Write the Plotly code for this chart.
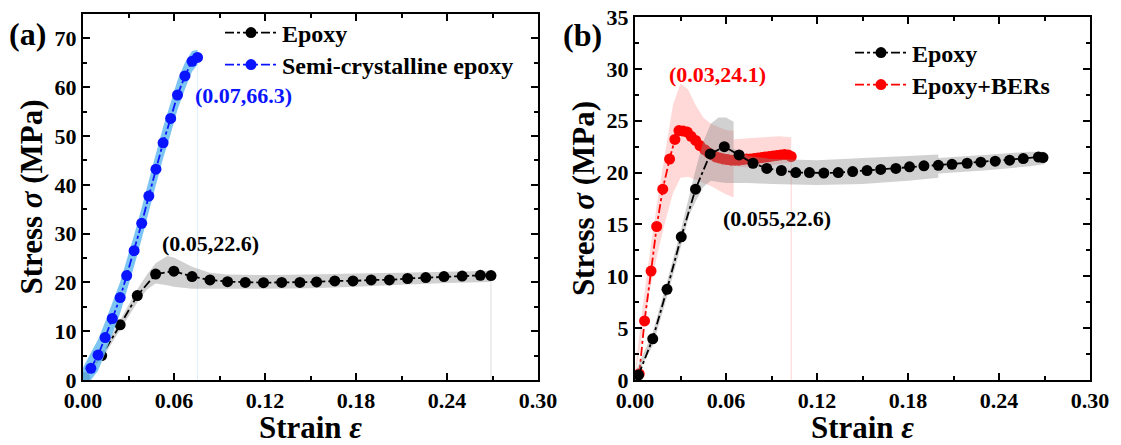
import plotly.graph_objects as go

# page is offset by the browser's 8px body margin; layout positions below are in window pixels
OFF = 8
WIN_W, WIN_H = 1121, 445
W, H = WIN_W - OFF, WIN_H - OFF
FONT = "Liberation Serif"


def px(p):
    return (p - OFF) / W


def py(p):
    return 1 - (p - OFF) / H


# ---------------- Panel (a) data ----------------
a_epoxy_x = [0.001, 0.0123, 0.0245, 0.0358, 0.0479, 0.0599, 0.0719, 0.0837, 0.0953, 0.107, 0.119, 0.131,
             0.143, 0.154, 0.166, 0.178, 0.190, 0.202, 0.214, 0.226, 0.238, 0.250, 0.262, 0.269]
a_epoxy_y = [0.5, 5.0, 11.3, 17.3, 21.7, 22.3, 21.2, 20.5, 20.15, 20.0, 19.95, 20.0,
             20.0, 20.1, 20.3, 20.3, 20.5, 20.5, 20.8, 21.0, 21.2, 21.3, 21.45, 21.4]
a_epoxy_band_x = [0.0, 0.0123, 0.0245, 0.0358, 0.042, 0.0479, 0.0555, 0.0599, 0.0719, 0.0837, 0.0953,
                  0.12, 0.15, 0.18, 0.21, 0.24, 0.269]
a_epoxy_band_hi = [0.8, 5.8, 12.3, 18.6, 21.5, 23.9, 25.4, 25.1, 23.2, 22.0, 21.6,
                   21.5, 21.6, 21.8, 22.0, 22.2, 22.4]
a_epoxy_band_lo = [0.0, 4.2, 10.3, 15.9, 18.5, 19.8, 19.4, 19.1, 18.7, 18.7, 18.7,
                   18.7, 18.8, 19.1, 19.5, 19.9, 20.1]

a_semi_x = [0.0052, 0.0099, 0.0146, 0.0193, 0.0245, 0.0288, 0.0337, 0.0387, 0.0434, 0.0481,
            0.0528, 0.0578, 0.0623, 0.0672, 0.0719, 0.0755]
a_semi_y = [2.4, 5.1, 8.7, 12.6, 16.9, 21.4, 26.5, 32.1, 37.7, 43.2,
            48.6, 53.6, 58.4, 62.3, 65.3, 66.1]
a_semi_band_x = [0.0, 0.0052, 0.0099, 0.0146, 0.0193, 0.0245, 0.0288, 0.0337, 0.0387, 0.0434,
                 0.0481, 0.0528, 0.0578, 0.0623, 0.0672, 0.0719, 0.0755]
a_semi_band_hi = [2.5, 5.6, 8.3, 11.9, 15.8, 20.1, 24.6, 29.7, 35.3, 40.9,
                  46.4, 51.8, 56.8, 61.4, 65.0, 67.4, 67.6]
a_semi_band_lo = [0.0, 0.0, 1.9, 5.5, 9.4, 13.7, 18.2, 23.3, 28.9, 34.5,
                  40.0, 45.4, 50.4, 55.4, 59.6, 63.2, 64.6]

# ---------------- Panel (b) data ----------------
b_epoxy_x = [0.0023, 0.0117, 0.0211, 0.0305, 0.0399, 0.0496, 0.0589, 0.0686, 0.0778, 0.0869, 0.0965,
             0.106, 0.115, 0.1245, 0.134, 0.1435, 0.153, 0.162, 0.172, 0.181, 0.1905, 0.200, 0.209,
             0.219, 0.228, 0.2375, 0.247, 0.256, 0.266, 0.269]
b_epoxy_y = [0.48, 3.97, 8.74, 13.8, 18.4, 21.8, 22.5, 21.7, 20.9, 20.4, 20.2,
             20.0, 20.0, 19.95, 20.0, 20.1, 20.2, 20.3, 20.4, 20.55, 20.65, 20.7, 20.8,
             20.9, 21.0, 21.1, 21.2, 21.35, 21.5, 21.45]
b_epoxy_band_x = [0.0, 0.0117, 0.0211, 0.0305, 0.036, 0.040, 0.045, 0.050, 0.055, 0.060, 0.065, 0.065,
                  0.075, 0.09, 0.12, 0.15, 0.18, 0.20, 0.20, 0.23, 0.26, 0.27]
b_epoxy_band_hi = [0.7, 4.6, 9.5, 14.6, 17.9, 20.3, 23.0, 24.7, 25.3, 25.3, 24.9, 22.3,
                   21.6, 21.3, 21.2, 21.4, 21.6, 21.75, 21.4, 21.7, 22.0, 22.0]
b_epoxy_band_lo = [0.2, 3.3, 8.0, 13.0, 16.0, 17.2, 18.6, 19.2, 19.1, 19.0, 19.0, 19.0,
                   19.0, 18.9, 18.8, 18.9, 19.2, 19.5, 19.9, 20.2, 20.6, 20.8]

b_bers_x = [0.0028, 0.0063, 0.0106, 0.0143, 0.0183, 0.0228, 0.0263, 0.0290, 0.0318, 0.0345, 0.0370, 0.0400,
            0.0428, 0.046, 0.0485, 0.051, 0.0535, 0.056, 0.0585, 0.061, 0.0635, 0.066, 0.0685, 0.071,
            0.0735, 0.076, 0.0785, 0.081, 0.0835, 0.086, 0.0885, 0.091, 0.0935, 0.096, 0.0985, 0.101, 0.103]
b_bers_y = [0.6, 5.7, 10.5, 14.8, 18.4, 21.3, 23.2, 24.05, 24.0, 23.9, 23.5, 23.1,
            22.6, 22.2, 21.9, 21.7, 21.5, 21.4, 21.3, 21.25, 21.2, 21.2, 21.2, 21.25,
            21.3, 21.3, 21.35, 21.4, 21.45, 21.5, 21.55, 21.6, 21.65, 21.7, 21.75, 21.7, 21.55]
b_bers_band_x = [0.0, 0.005, 0.010, 0.015, 0.020, 0.025, 0.030, 0.035, 0.040, 0.045, 0.050, 0.055,
                 0.060, 0.065, 0.065, 0.075, 0.085, 0.095, 0.103]
b_bers_band_hi = [0.8, 7.0, 12.5, 17.5, 22.0, 26.5, 28.6, 28.0, 26.5, 25.3, 24.7, 24.4,
                  24.1, 24.0, 23.2, 23.3, 23.4, 23.5, 23.4]
b_bers_band_lo = [0.2, 4.6, 8.8, 12.3, 15.3, 18.0, 19.5, 19.6, 19.3, 19.0, 18.7, 18.3,
                  17.9, 17.6, 20.6, 20.5, 20.6, 20.8, 21.0]

x_ticks = [0.00, 0.06, 0.12, 0.18, 0.24, 0.30]
x_ticklabels = ["0.00", "0.06", "0.12", "0.18", "0.24", "0.30"]
a_y_ticks = [0, 10, 20, 30, 40, 50, 60, 70]
b_y_ticks = [0, 5, 10, 15, 20, 25, 30, 35]

fig = go.Figure()


def band(xs, hi, lo, color, xa, ya):
    fig.add_trace(go.Scatter(
        x=list(xs) + list(xs)[::-1], y=list(hi) + list(lo)[::-1],
        fill="toself", fillcolor=color, mode="none", hoverinfo="skip",
        showlegend=False, xaxis=xa, yaxis=ya))


def edge(xs, lo, color, xa, ya):
    fig.add_trace(go.Scatter(
        x=[xs[-1], xs[-1]], y=[0, lo[-1]], mode="lines",
        line=dict(color=color, width=1), hoverinfo="skip",
        showlegend=False, xaxis=xa, yaxis=ya))


def series(xs, ys, color, name, xa, ya, legend, msize=11):
    fig.add_trace(go.Scatter(
        x=xs, y=ys, mode="lines+markers", name=name,
        line=dict(color=color, width=1.8, dash="dashdot"),
        marker=dict(color=color, size=msize, symbol="circle"),
        xaxis=xa, yaxis=ya, legend=legend))


# Panel (a)
edge(a_epoxy_band_x, a_epoxy_band_lo, "rgba(200,200,200,0.6)", "x", "y")
edge(a_semi_band_x, a_semi_band_lo, "rgba(170,210,240,0.35)", "x", "y")
band(a_epoxy_band_x, a_epoxy_band_hi, a_epoxy_band_lo, "rgba(150,150,150,0.45)", "x", "y")
series(a_epoxy_x, a_epoxy_y, "black", "Epoxy", "x", "y", "legend")
band(a_semi_band_x, a_semi_band_hi, a_semi_band_lo, "rgba(110,190,240,0.9)", "x", "y")
series(a_semi_x, a_semi_y, "#0A14FF", "Semi-crystalline epoxy", "x", "y", "legend2")

# Panel (b)
edge(b_bers_band_x, b_bers_band_lo, "rgba(255,170,170,0.5)", "x2", "y2")
band(b_bers_band_x, b_bers_band_hi, b_bers_band_lo, "rgba(255,60,60,0.2)", "x2", "y2")
series(b_bers_x, b_bers_y, "#FF0000", "Epoxy+BERs", "x2", "y2", "legend4")
band(b_epoxy_band_x, b_epoxy_band_hi, b_epoxy_band_lo, "rgba(140,140,140,0.4)", "x2", "y2")
series(b_epoxy_x, b_epoxy_y, "black", "Epoxy", "x2", "y2", "legend3")

tickfont = dict(family=FONT, size=22, color="black", weight="bold")
titlefont = dict(family=FONT, size=31, color="black", weight="bold")


def xaxis_cfg(domain, anchor):
    return dict(domain=domain, range=[0, 0.30], tickvals=x_ticks, ticktext=x_ticklabels,
                ticks="inside", ticklen=7, tickwidth=2, tickcolor="black",
                minor=dict(ticks="inside", dtick=0.03, ticklen=4, tickwidth=1.5, tickcolor="black"),
                showline=True, linewidth=2, linecolor="black", mirror="allticks",
                showgrid=False, zeroline=False, tickfont=tickfont, automargin=False,
                ticklabeloverflow="allow",
                title=dict(text="<b>Strain <i>ε</i></b>", font=titlefont, standoff=0),
                anchor=anchor)


def yaxis_cfg(domain, rng, tv, minor_dt, anchor):
    return dict(domain=domain, range=rng, tickvals=tv,
                ticks="inside", ticklen=7, tickwidth=2, tickcolor="black",
                minor=dict(ticks="inside", dtick=minor_dt, ticklen=4, tickwidth=1.5, tickcolor="black"),
                showline=True, linewidth=2, linecolor="black", mirror="allticks",
                showgrid=False, zeroline=False, tickfont=tickfont, automargin=False,
                ticklabeloverflow="allow",
                title=dict(text="<b>Stress <i>σ</i> (MPa)</b>", font=titlefont, standoff=3),
                anchor=anchor)


xa = xaxis_cfg([px(83), px(538)], "y")
xb = xaxis_cfg([px(635), px(1090)], "y2")
ya = yaxis_cfg([py(380), py(14)], [0, 75], a_y_ticks, 5, "x")
yb = yaxis_cfg([py(380), py(17)], [0, 35], b_y_ticks, 2.5, "x2")

legfont = dict(family=FONT, size=24, color="black", weight="bold")


def leg(xp, yp):
    return dict(x=px(xp), y=py(yp), xanchor="left", yanchor="middle", font=legfont,
                bgcolor="rgba(0,0,0,0)", itemwidth=52)


fig.update_layout(
    width=W, height=H, margin=dict(l=0, r=0, t=0, b=0, autoexpand=False),
    paper_bgcolor="white", plot_bgcolor="white",
    xaxis=xa, yaxis=ya, xaxis2=xb, yaxis2=yb,
    legend=leg(220, 33), legend2=leg(220, 65),
    legend3=leg(850, 53), legend4=leg(850, 85),
    showlegend=True,
    annotations=[
        dict(text="<b>(a)</b>", x=px(27), y=py(34), xref="paper", yref="paper",
             xanchor="center", yanchor="middle",
             showarrow=False, font=dict(family=FONT, size=32, color="black")),
        dict(text="<b>(b)</b>", x=px(582), y=py(35), xref="paper", yref="paper",
             xanchor="center", yanchor="middle",
             showarrow=False, font=dict(family=FONT, size=32, color="black")),
        dict(text="<b>(0.05,22.6)</b>", x=0.0842, y=28, xref="x", yref="y",
             showarrow=False, font=dict(family=FONT, size=22, color="black")),
        dict(text="<b>(0.07,66.3)</b>", x=0.1057, y=58.3, xref="x", yref="y",
             showarrow=False, font=dict(family=FONT, size=22, color="#0A14FF")),
        dict(text="<b>(0.03,24.1)</b>", x=0.0543, y=29.5, xref="x2", yref="y2",
             showarrow=False, font=dict(family=FONT, size=22, color="#FF0000")),
        dict(text="<b>(0.055,22.6)</b>", x=0.0935, y=15.6, xref="x2", yref="y2",
             showarrow=False, font=dict(family=FONT, size=22, color="black")),
    ],
)

fig.write_html("out.html")
